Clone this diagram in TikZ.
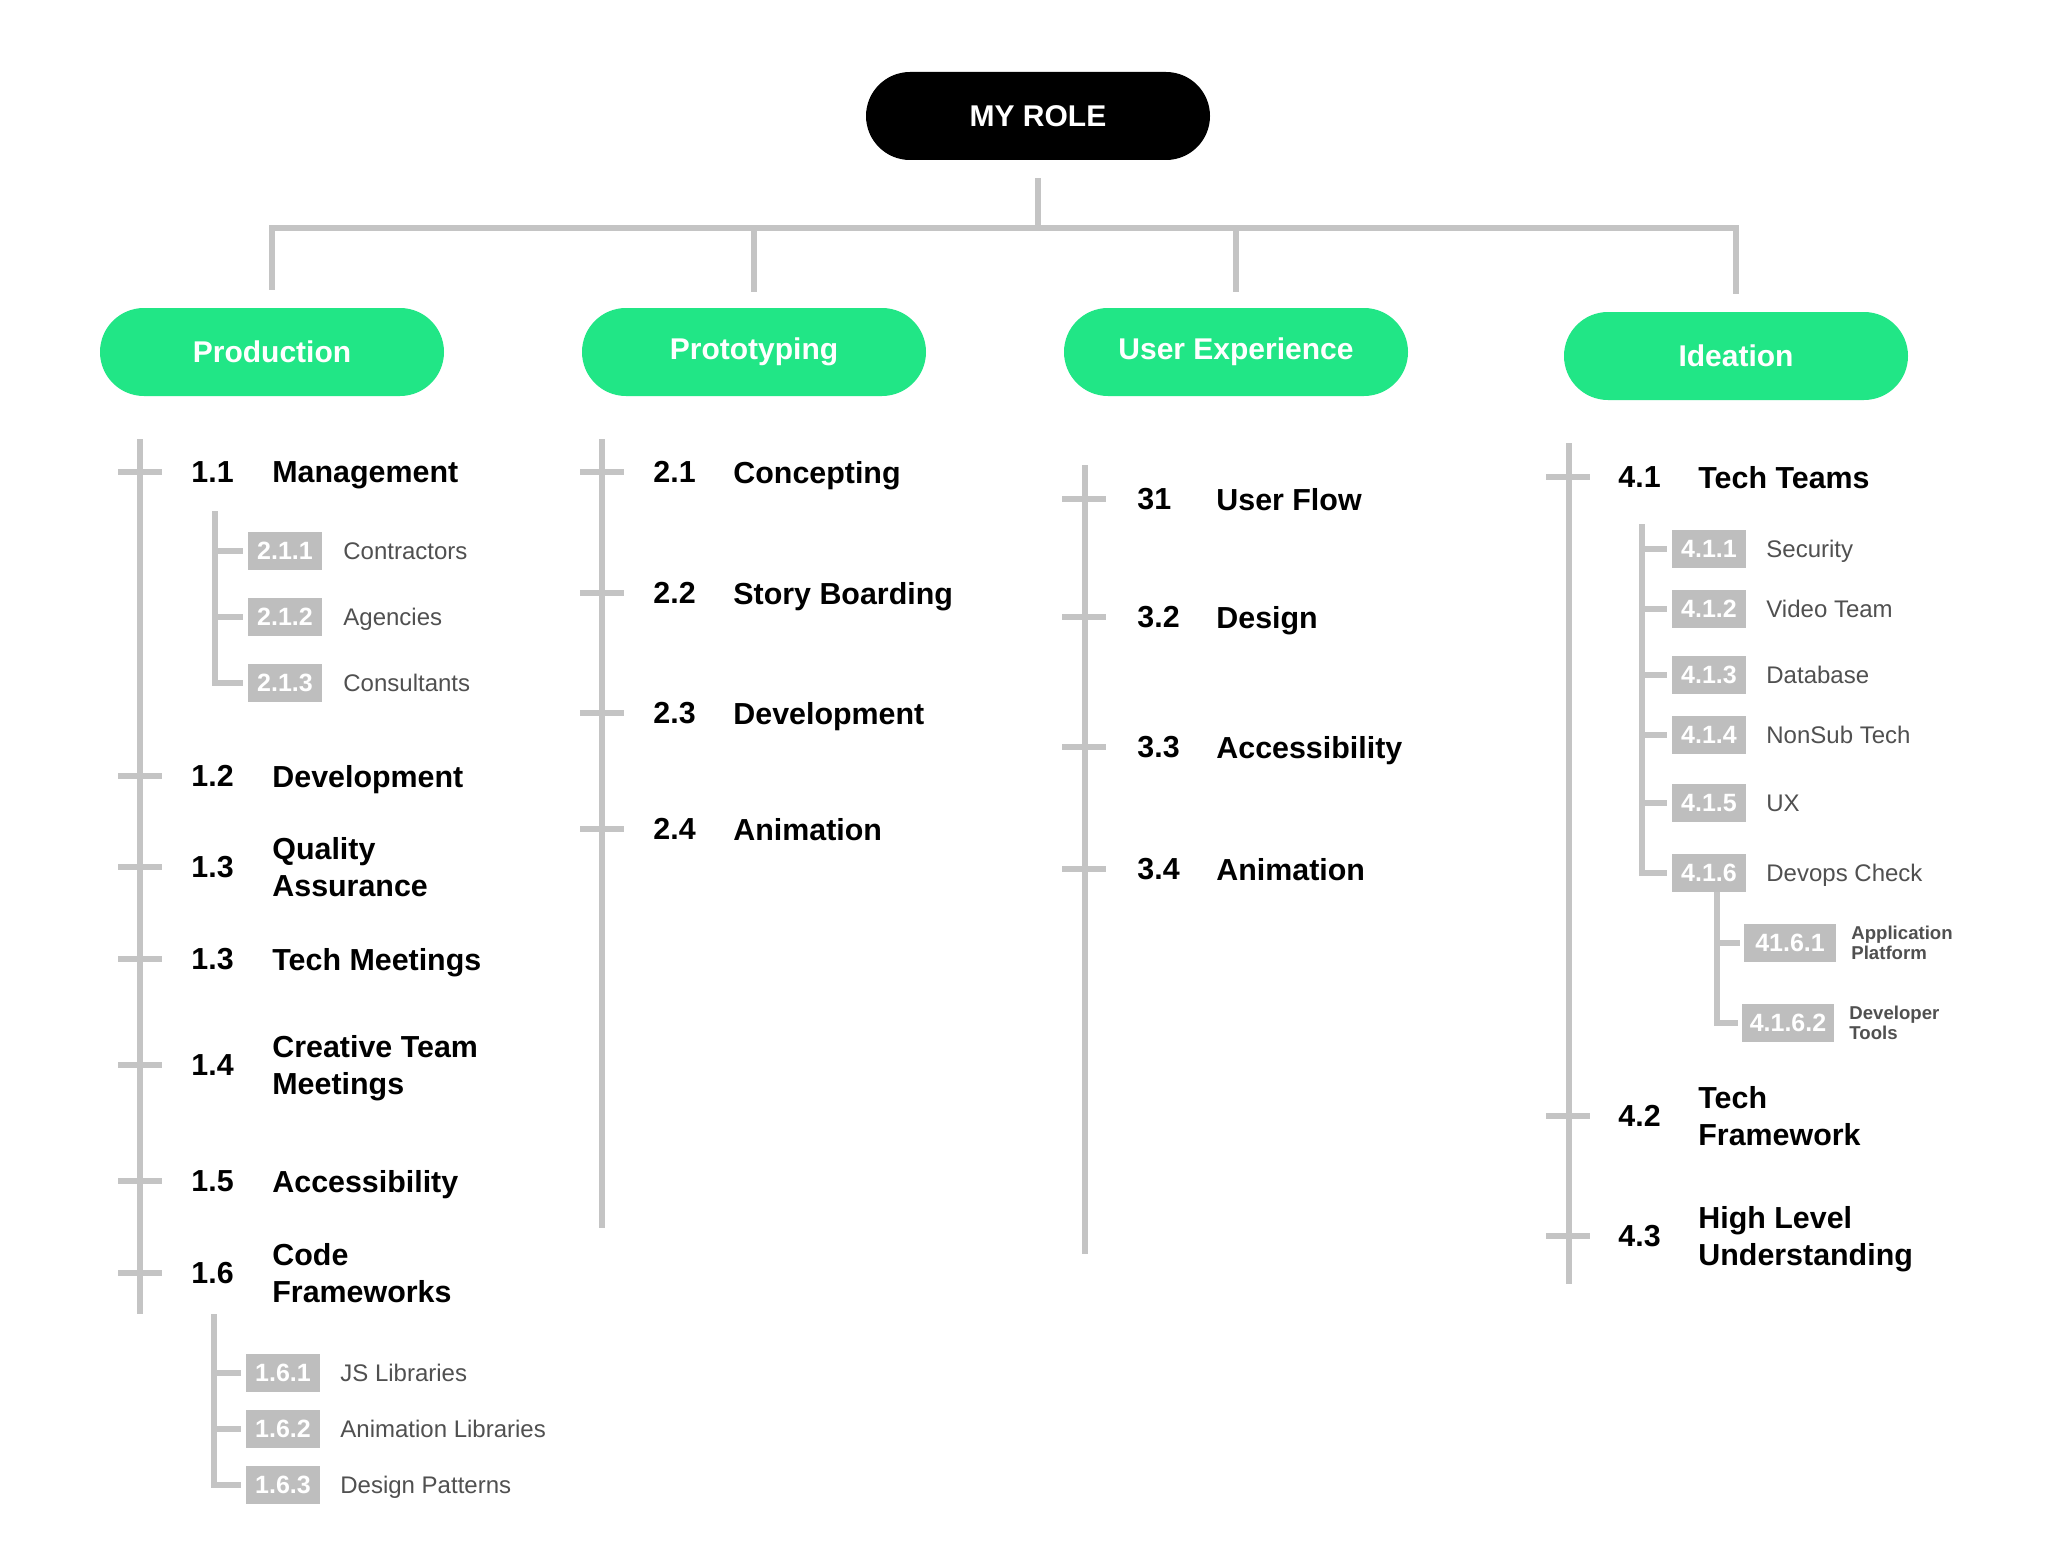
\documentclass[tikz,border=0pt]{standalone}
\usepackage{fontspec}
\setmainfont{Liberation Sans}
\usetikzlibrary{positioning}

\definecolor{mint}{RGB}{33,230,134}
\definecolor{rulegray}{RGB}{196,196,196}
\definecolor{tagray}{RGB}{190,190,190}
\definecolor{subgray}{RGB}{80,80,80}

\tikzset{
  rolebox/.style = {fill=black, text=white, rounded corners=22pt,
                    minimum width=172pt, minimum height=44pt,
                    font=\bfseries\fontsize{15}{18}\selectfont},
  pill/.style    = {fill=mint, text=white, rounded corners=22pt,
                    minimum width=172pt, minimum height=44pt,
                    font=\bfseries\fontsize{15}{18}\selectfont},
  link/.style    = {draw=rulegray, line width=3pt},
  num/.style     = {anchor=west, inner sep=0pt,
                    font=\bfseries\fontsize{15.2}{18.5}\selectfont},
  item/.style    = {anchor=west, inner sep=0pt, align=left, text depth=0pt,
                    font=\bfseries\fontsize{15.2}{18.5}\selectfont},
  tag/.style     = {fill=tagray, text=white, inner sep=0pt,
                    minimum width=37pt, minimum height=19pt,
                    font=\bfseries\fontsize{12.5}{14}\selectfont},
  widetag/.style = {tag, minimum width=46pt},
  sub/.style     = {anchor=west, inner sep=0pt, text=subgray, text depth=0pt,
                    font=\fontsize{12}{14}\selectfont},
  tiny/.style    = {anchor=west, inner sep=0pt, align=left, text=subgray,
                    font=\bfseries\fontsize{9.3}{8.5}\selectfont}
}

\begin{document}
\begin{tikzpicture}[x=0.5pt, y=-0.5pt]
  \useasboundingbox[fill=white] (0,0) rectangle (2062,1568);

  % top level
  \node[rolebox] (role)  at (1038,116) {MY ROLE};
  \node[pill]    (prod)  at (272,352)  {Production};
  \node[pill]    (proto) at (754,352)  {Prototyping};
  \node[pill]    (ux)    at (1236,352) {User Experience};
  \node[pill]    (idea)  at (1736,356) {Ideation};

  \coordinate (bus) at (1038,228);
  \draw[link, shorten <=9pt] (role) -- (bus);
  \draw[link, shorten <=9pt, shorten >=9pt] (prod.north) |- (bus) -| (idea.north);
  \draw[link, shorten >=8pt] (proto |- bus) -- (proto.north);
  \draw[link, shorten >=8pt] (ux |- bus) -- (ux.north);

  % Production
  \coordinate (prod top) at (140,439);
  \coordinate (prod end) at (140,1314);
  \draw[link] (prod top) -- (prod end);
  \foreach \y/\n/\t [count=\i] in {472/1.1/Management, 776/1.2/Development,
      867/1.3/{Quality\\Assurance}, 959/1.3/Tech Meetings,
      1065/1.4/{Creative Team\\Meetings}, 1181/1.5/Accessibility,
      1273/1.6/{Code\\Frameworks}} {
    \draw[link] (118,\y) -- (162,\y);
    \node[num]  (prod num\i)  at (191,\y) {\n};
    \node[item] (prod item\i) at (272,\y) {\t};
  }

  \coordinate (mgmt sub) at (215,511);
  \node[tag] (b211) at (285,551) {2.1.1};
  \node[tag] (b212) at (285,617) {2.1.2};
  \node[tag] (b213) at (285,683) {2.1.3};
  \node[sub] (s211) at (343,551) {Contractors};
  \node[sub] (s212) at (343,617) {Agencies};
  \node[sub] (s213) at (343,683) {Consultants};
  \foreach \b in {b211,b212,b213}
    \draw[link, shorten >=2.5pt] (mgmt sub) |- (\b.west);

  \coordinate (code sub) at (214,1314);
  \node[tag] (b161) at (283,1373) {1.6.1};
  \node[tag] (b162) at (283,1429) {1.6.2};
  \node[tag] (b163) at (283,1485) {1.6.3};
  \node[sub] (s161) at (340,1373) {JS Libraries};
  \node[sub] (s162) at (340,1429) {Animation Libraries};
  \node[sub] (s163) at (340,1485) {Design Patterns};
  \foreach \b in {b161,b162,b163}
    \draw[link, shorten >=2.5pt] (code sub) |- (\b.west);

  % Prototyping
  \coordinate (proto top) at (602,439);
  \coordinate (proto end) at (602,1228);
  \draw[link] (proto top) -- (proto end);
  \foreach \y/\n/\t [count=\i] in {472/2.1/Concepting, 593/2.2/Story Boarding,
      713/2.3/Development, 829/2.4/Animation} {
    \draw[link] (580,\y) -- (624,\y);
    \node[num]  (proto num\i)  at (653,\y) {\n};
    \node[item] (proto item\i) at (733,\y) {\t};
  }

  % User Experience
  \coordinate (ux top) at (1085,465);
  \coordinate (ux end) at (1085,1254);
  \draw[link] (ux top) -- (ux end);
  \foreach \y/\n/\t [count=\i] in {499/31/User Flow, 617/3.2/Design,
      747/3.3/Accessibility, 869/3.4/Animation} {
    \draw[link] (1062,\y) -- (1106,\y);
    \node[num]  (ux num\i)  at (1137,\y) {\n};
    \node[item] (ux item\i) at (1216,\y) {\t};
  }

  % Ideation
  \coordinate (idea top) at (1569,443);
  \coordinate (idea end) at (1569,1284);
  \draw[link] (idea top) -- (idea end);
  \foreach \y/\n/\t [count=\i] in {477/4.1/Tech Teams,
      1116/4.2/{Tech\\Framework}, 1236/4.3/{High Level\\Understanding}} {
    \draw[link] (1546,\y) -- (1590,\y);
    \node[num]  (idea num\i)  at (1618,\y) {\n};
    \node[item] (idea item\i) at (1698,\y) {\t};
  }

  \coordinate (team sub) at (1642,524);
  \foreach \y/\n/\t [count=\i] in {549/4.1.1/Security, 609/4.1.2/Video Team,
      675/4.1.3/Database, 735/4.1.4/NonSub Tech, 803/4.1.5/UX,
      873/4.1.6/Devops Check} {
    \node[tag] (b41\i) at (1709,\y) {\n};
    \node[sub] (s41\i) at (1766,\y) {\t};
    \draw[link, shorten >=2.5pt] (team sub) |- (b41\i.west);
  }

  \coordinate (devops sub) at ([xshift=4pt]b416.south);
  \node[widetag] (b4161) at (1790,943)  {41.6.1};
  \node[widetag] (b4162) at (1788,1023) {4.1.6.2};
  \node[tiny] (s4161) at (1851,943)  {Application\\Platform};
  \node[tiny] (s4162) at (1849,1023) {Developer\\Tools};
  \foreach \b in {b4161,b4162}
    \draw[link, shorten >=2pt] (devops sub) |- (\b.west);
\end{tikzpicture}
\end{document}
